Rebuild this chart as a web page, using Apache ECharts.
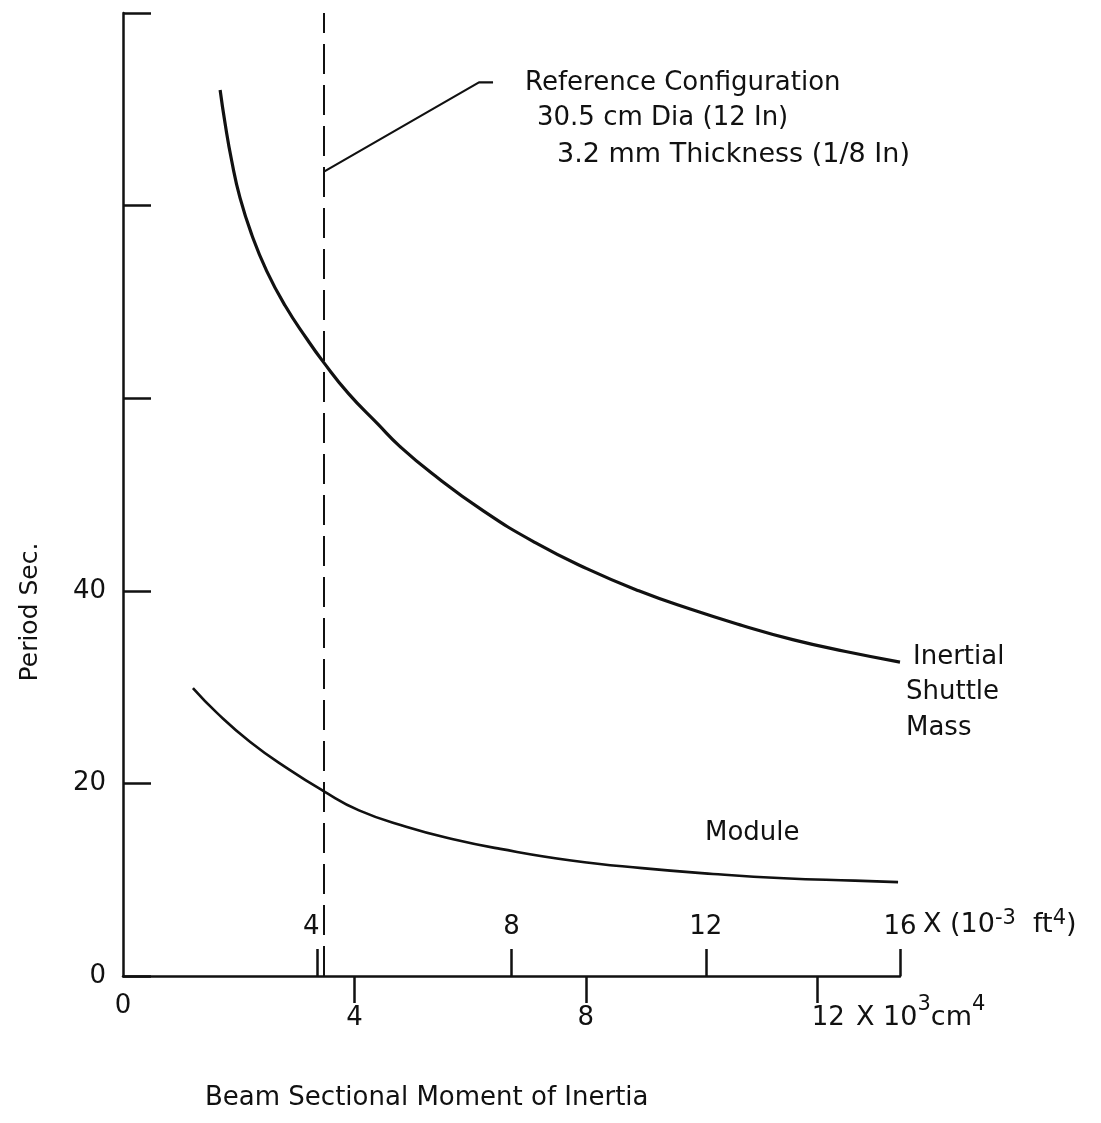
<!DOCTYPE html>
<html><head><meta charset="utf-8">
<script src="https://cdn.jsdelivr.net/npm/echarts@6/dist/echarts.min.js"></script>
<style>html,body{margin:0;padding:0;background:#fff}#c{width:1101px;height:1123px}</style>
</head><body><div id="c"></div>
<script>
// Beam sectional moment of inertia, 10^-3 ft^4
const inertialX = [2.0, 2.1, 2.24, 2.41, 2.65, 2.96, 3.34, 3.78, 4.12, 4.64, 5.25, 5.7, 6.36, 7.42, 8.49, 9.55, 10.62, 11.68, 12.75, 13.81, 14.88, 16.0];
// Period, sec
const inertialY = [92.0, 88.6, 84.6, 80.8, 77.0, 73.2, 69.6, 66.2, 63.8, 60.5, 57.3, 55.0, 52.2, 48.3, 45.0, 42.3, 40.0, 38.1, 36.4, 34.9, 33.7, 32.6];
const moduleX = [1.44, 1.94, 2.62, 3.40, 4.13, 4.86, 5.83, 6.80, 7.77, 9.23, 10.69, 12.15, 13.61, 15.07, 15.96];
const moduleY = [29.9, 27.3, 24.3, 21.5, 19.2, 17.2, 15.5, 14.2, 13.2, 12.0, 11.2, 10.6, 10.15, 9.9, 9.75];
const refX = 4.13;
const leaderX = [4.13, 7.33, 7.62];
const leaderY = [83.5, 92.8, 92.8];
const yLabels = [0, 20, 40];
const ftTicks = [4, 8, 12, 16];
const cmTicks = [4, 8, 12];
const cmLabels = [0, 4, 8, 12];
const cmMax = 13.43; // 16e-3 ft^4 expressed in 10^3 cm^4 on the drawn scale

const FONT = 'DejaVu Sans';
const INK = '#111';
const zip = (a, b) => a.map((v, i) => [v, b[i]]);

const chart = echarts.init(document.getElementById('c'), null, {renderer: 'canvas'});
const txt = (text, x, y, extra, rot) => ({
  type: 'text', x: x, y: y, silent: true, rotation: rot || 0,
  style: Object.assign({text: text, fill: INK, fontFamily: FONT, fontSize: 26, textAlign: 'left', textVerticalAlign: 'middle', align: 'left', verticalAlign: 'middle'}, extra || {})
});
const supText = (text, x, y, lh) => ({
  type: 'text', x: x, y: y, silent: true,
  style: {
    text: text, fill: INK, fontFamily: FONT, fontSize: 27,
    textAlign: 'left', textVerticalAlign: 'middle', align: 'left', verticalAlign: 'middle',
    rich: {
      n: {fontFamily: FONT, fontSize: 27, lineHeight: lh, fill: INK},
      s: {fontFamily: FONT, fontSize: 21, lineHeight: 12, verticalAlign: 'top', fill: INK}
    }
  }
});

chart.setOption({
  animation: false,
  backgroundColor: '#fff',
  grid: {left: 123, right: 201, top: 13, bottom: 147, containLabel: false},
  xAxis: [{
    type: 'value', position: 'bottom', min: 0, max: 16, interval: 4,
    axisLine: {show: true, lineStyle: {color: INK, width: 2.5}},
    axisTick: {show: true, inside: true, length: 27, lineStyle: {color: INK, width: 2.5}, customValues: ftTicks},
    axisLabel: {
      inside: true, margin: 36, color: INK, fontFamily: FONT, fontSize: 26,
      customValues: ftTicks,
      formatter: v => v === 4 ? '{l|4}' : String(v),
      rich: {l: {fontFamily: FONT, fontSize: 26, color: INK, padding: [0, 12, 0, 0]}}
    },
    splitLine: {show: false}
  }, {
    type: 'value', position: 'bottom', min: 0, max: cmMax,
    axisLine: {show: false},
    axisTick: {show: true, inside: false, length: 27, lineStyle: {color: INK, width: 2.5}, customValues: cmTicks},
    axisLabel: {
      margin: 17, color: INK, fontFamily: FONT, fontSize: 26,
      customValues: cmLabels,
      formatter: v => v === 0 ? '0' : (v === 12 ? '{b|12}' : '{a|' + v + '}'),
      rich: {
        a: {fontFamily: FONT, fontSize: 26, color: INK, padding: [12, 0, 0, 0]},
        b: {fontFamily: FONT, fontSize: 26, color: INK, padding: [12, 0, 0, 22]}
      }
    },
    splitLine: {show: false}
  }],
  yAxis: {
    type: 'value', min: 0, max: 100, interval: 20,
    axisLine: {show: true, lineStyle: {color: INK, width: 2.5}},
    axisTick: {show: true, inside: true, length: 28, lineStyle: {color: INK, width: 2.5}},
    axisLabel: {
      margin: 17, color: INK, fontFamily: FONT, fontSize: 26,
      formatter: v => yLabels.indexOf(v) >= 0 ? String(v) : ''
    },
    splitLine: {show: false}
  },
  series: [{
    name: 'Inertial Shuttle Mass', type: 'line', xAxisIndex: 0,
    data: zip(inertialX, inertialY), smooth: 0.5, showSymbol: false,
    lineStyle: {color: INK, width: 3.2},
    markLine: {
      silent: true, symbol: 'none', label: {show: false},
      lineStyle: {color: INK, width: 2, type: [30, 11]},
      data: [{xAxis: refX}]
    }
  }, {
    name: 'Module', type: 'line', xAxisIndex: 0,
    data: zip(moduleX, moduleY), smooth: 0.5, showSymbol: false,
    lineStyle: {color: INK, width: 2.6}
  }, {
    name: 'Leader', type: 'line', xAxisIndex: 0,
    data: zip(leaderX, leaderY), showSymbol: false,
    lineStyle: {color: INK, width: 2.2}
  }],
  graphic: [
    txt('Reference Configuration', 525, 83),
    txt('30.5 cm Dia (12 In)', 537, 118),
    txt('3.2 mm Thickness (1/8 In)', 557, 155, {fontSize: 27}),
    txt('Inertial', 913, 657),
    txt('Shuttle', 906, 692),
    txt('Mass', 906, 728),
    txt('Module', 705, 833),
    txt('Beam Sectional Moment of Inertia', 205, 1098),
    txt('Period Sec.', 30, 612, {textAlign: 'center', align: 'center', fontSize: 25}, Math.PI / 2),
    supText('{n|X (10}{s|-3}{n|  ft}{s|4}{n|)}', 923, 925, 34),
    supText('{n|X 10}{s|3}{n|cm}{s|4}', 856, 1018, 48)
  ]
});
</script>
</body></html>
